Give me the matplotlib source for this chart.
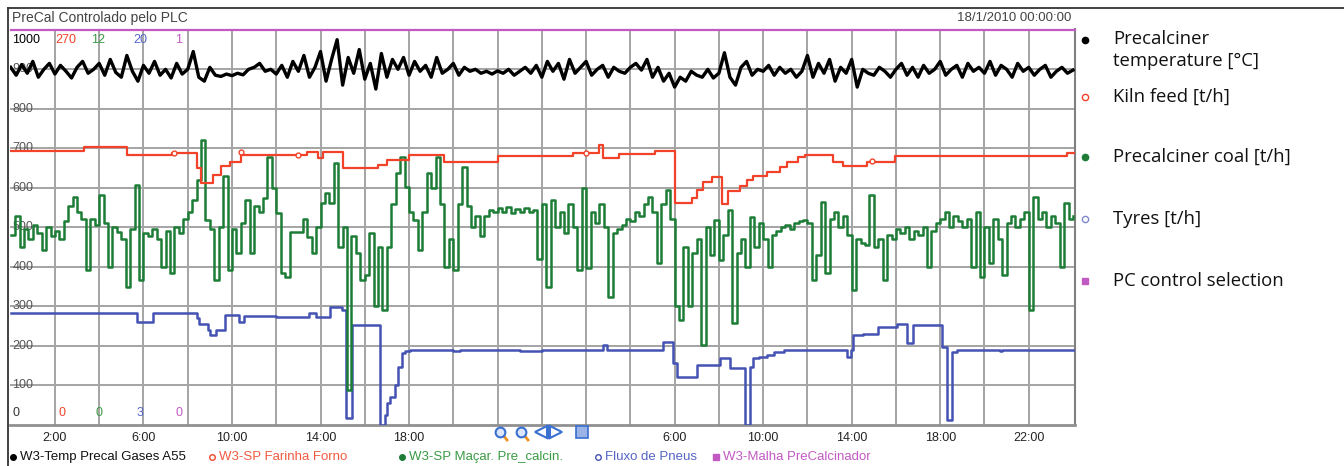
import numpy as np
import matplotlib
matplotlib.use('Agg')
from matplotlib import pyplot as plt
from matplotlib.transforms import blended_transform_factory

# trend values, all on the shared 0-1000 trend scale
# temperature: one reading every 15 min
temp_vals = [905, 885, 912, 890, 920, 880, 900, 915,
             888, 910, 895, 878, 905, 920, 890, 900,
             915, 885, 925, 892, 880, 935, 895, 870,
             910, 890, 920, 885, 900, 878, 915, 888,
             900, 945, 880, 870, 905, 885, 882, 888,
             884, 890, 886, 900, 905, 915, 895, 900,
             888, 910, 880, 920, 895, 935, 880, 905,
             945, 870, 925, 975, 860, 930, 890, 950,
             875, 915, 850, 940, 880, 925, 900, 930,
             885, 920, 895, 910, 880, 930, 890, 900,
             915, 885, 905, 895, 900, 890, 895, 888,
             896, 890, 900, 885, 895, 905, 890, 910,
             880, 920, 895, 915, 875, 925, 890, 905,
             920, 885, 900, 910, 880, 905, 895, 890,
             905, 915, 898, 925, 880, 905, 870, 890,
             855, 880, 870, 895, 885, 880, 900, 878,
             890, 942, 880, 860, 905, 920, 885, 900,
             895, 910, 885, 905, 890, 900, 880, 895,
             935, 880, 915, 890, 925, 870, 905, 890,
             925, 855, 900, 890, 885, 905, 895, 880,
             900, 915, 885, 905, 880, 910, 890, 900,
             920, 885, 900, 910, 880, 915, 895, 905,
             890, 920, 885, 910, 900, 880, 915, 895,
             905, 885, 900, 910, 880, 895, 905, 890, 898]

# precalciner coal: one reading every 12 min
coal_vals = [480, 530, 450, 495, 470, 505, 485, 443, 500, 478,
             490, 470, 515, 553, 578, 540, 520, 392, 520, 505,
             582, 510, 401, 500, 488, 470, 350, 495, 608, 367,
             485, 478, 495, 470, 401, 490, 384, 500, 485, 520,
             540, 570, 620, 722, 519, 495, 367, 500, 629, 392,
             495, 435, 510, 570, 435, 555, 540, 575, 679, 600,
             536, 384, 375, 489, 489, 489, 520, 475, 435, 500,
             561, 586, 561, 662, 451, 500, 88, 477, 435, 367,
             380, 485, 300, 451, 291, 450, 560, 637, 679, 603,
             540, 519, 443, 540, 637, 600, 679, 560, 401, 470,
             392, 560, 654, 553, 502, 530, 477, 530, 544, 540,
             548, 540, 552, 536, 546, 540, 550, 538, 545, 420,
             560, 350, 570, 500, 540, 485, 560, 500, 392, 599,
             397, 540, 510, 560, 500, 325, 485, 495, 505, 520,
             515, 540, 530, 560, 578, 540, 409, 560, 595, 520,
             300, 266, 451, 300, 435, 470, 202, 500, 430, 519,
             418, 480, 544, 257, 435, 470, 400, 527, 450, 510,
             470, 400, 480, 490, 500, 505, 495, 510, 515, 519,
             510, 367, 430, 565, 384, 520, 540, 500, 530, 480,
             342, 470, 460, 455, 582, 451, 470, 367, 480, 470,
             495, 485, 500, 470, 490, 480, 500, 401, 490, 510,
             520, 540, 500, 530, 515, 500, 520, 400, 540, 375,
             500, 410, 520, 470, 380, 510, 530, 500, 520, 540,
             291, 578, 520, 540, 500, 530, 510, 401, 561, 520, 530]

# kiln feed setpoint (steps)
feed_t = [0, 3.3, 5.25, 7.3, 8.4, 8.6, 9.15, 9.5, 9.9, 10.4, 13.4, 13.9, 14.1,
          15.0, 16.6, 17.0, 18.0, 19.6, 22.0, 25.4, 26.6, 26.75, 27.5, 29.1,
          30.0, 30.77, 31.0, 31.3, 31.68, 32.13, 32.43, 32.96, 33.26, 33.56,
          34.16, 34.76, 35.07, 35.59, 35.9, 37.17, 37.62, 38.68, 39.96, 47.72, 48.1]
feed_v = [694, 704, 684, 689, 650, 613, 633, 656, 666, 684, 691, 676, 691,
          651, 658, 671, 684, 666, 681, 689, 709, 676, 686, 694,
          562, 575, 595, 615, 628, 560, 593, 605, 620, 630,
          641, 653, 666, 678, 684, 666, 656, 666, 681, 689, 689]
feed_mark_t = [7.4, 10.4, 13.0, 26.0, 38.9]
feed_mark_v = [689, 692, 684, 689, 668]

# tyres flow (steps)
tyre_t = [0, 5.7, 6.45, 8.4, 8.5, 8.9, 9.0, 9.3, 9.7, 10.3, 10.55, 12.0, 13.5,
          13.8, 14.43, 14.96, 15.15, 15.41, 16.69, 16.92, 17.0, 17.14, 17.37,
          17.52, 17.67, 17.82, 18.05, 20.0, 20.3, 23.0, 24.0, 26.78, 26.95,
          29.49, 29.94, 30.1, 30.4, 31.0, 32.05, 32.5, 33.18, 33.41, 33.56,
          33.79, 34.16, 34.5, 34.92, 37.8, 37.95, 38.08, 38.53, 39.21, 40.04,
          40.49, 40.75, 42.07, 42.3, 42.52, 42.75, 44.7, 44.8, 48.1]
tyre_v = [283, 261, 283, 270, 255, 240, 228, 240, 278, 261, 276, 273, 283,
          273, 299, 291, 18, 253, 0, 25, 56, 71, 101,
          147, 182, 188, 190, 186, 190, 188, 190, 203, 190,
          210, 157, 122, 122, 152, 170, 144, 0, 147, 170,
          172, 178, 184, 190, 172, 190, 228, 230, 248, 256,
          208, 253, 198, 13, 185, 190, 186, 190, 190]

# PC control selection (always 1 -> top of its 0-1 scale)
pc_t = [0, 48.1]
pc_v = [1000, 1000]

x_ticks = [2, 6, 10, 14, 18, 30, 34, 38, 42, 46]
x_labels = ['2:00', '6:00', '10:00', '14:00', '18:00',
            '6:00', '10:00', '14:00', '18:00', '22:00']
y_labels = [100, 200, 300, 400, 500, 600, 700, 800, 900]

C_TEMP = '#000000'
C_FEED = '#f2432a'
C_COAL = '#1d7d36'
C_TYRE = '#4453b3'
C_PC = '#c25ac4'

W, H = 1344, 466
fig = plt.figure(figsize=(W / 100, H / 100), dpi=100)
fig.patch.set_facecolor('white')

def fx(x):
    return x / W

def fy(y):
    return 1 - y / H

ax = fig.add_axes([fx(10), fy(425), fx(1075) - fx(10), fy(29) - fy(425)])
ax.set_xlim(-0.03, 48.09)
ax.set_ylim(0, 1002)
ax.set_xticks(np.arange(2, 48, 2))
ax.set_yticks(y_labels)
ax.tick_params(length=0, labelbottom=False, labelleft=False)
ax.grid(True, color='#a4a4a4', lw=1.4)
ax.set_axisbelow(True)
for s in ['top', 'left']:
    ax.spines[s].set_visible(False)
ax.spines['bottom'].set_color('#909090')
ax.spines['bottom'].set_linewidth(2)
ax.spines['right'].set_color('#808080')
ax.spines['right'].set_linewidth(1.5)

lab = dict(family='Liberation Sans', fontsize=9)
for v in y_labels:
    ax.text(0.08, v, str(v), color='#555555', va='center', ha='left', zorder=1, **lab)

# scale labels top / bottom
top_lab = [('1000', 0.08, C_TEMP), ('270', 2.0, C_FEED), ('12', 3.62, '#3a9a44'),
           ('20', 5.55, '#5565c5'), ('1', 7.45, C_PC)]
bot_lab = [('0', 0.08, '#333333'), ('0', 2.15, C_FEED), ('0', 3.85, '#3a9a44'),
           ('3', 5.7, '#5565c5'), ('0', 7.45, C_PC)]
for s, x, c in top_lab:
    ax.text(x, 975, s, color=c, va='center', ha='left', zorder=1, **lab)
for s, x, c in bot_lab:
    ax.text(x, 30, s, color=c, va='center', ha='left', zorder=1, **lab)

t_temp = np.arange(len(temp_vals)) * 0.25
t_coal = np.arange(len(coal_vals)) * 0.2
ax.plot(tyre_t, tyre_v, color=C_TYRE, lw=1.8, drawstyle='steps-post', zorder=3)
ax.plot(t_coal, coal_vals, color=C_COAL, lw=1.8, drawstyle='steps-post', zorder=4)
ax.plot(feed_t, feed_v, color=C_FEED, lw=1.6, drawstyle='steps-post', zorder=5)
ax.plot(feed_mark_t, feed_mark_v, 'o', mfc='white', mec=C_FEED, ms=3.5, mew=1, zorder=5)
ax.plot(t_temp, temp_vals, color=C_TEMP, lw=2.4, zorder=6)
ax.plot(pc_t, pc_v, color=C_PC, lw=1.6, zorder=7, clip_on=False)

tr = blended_transform_factory(ax.transData, ax.transAxes)
for x, s in zip(x_ticks, x_labels):
    ax.text(x, -0.032, s, transform=tr, ha='center', va='center', color='#222222', **lab)

# outer frame of the trend window
fig.add_artist(plt.Line2D([fx(8), fx(8)], [fy(8), 0], color='#333333', lw=1.3))
fig.add_artist(plt.Line2D([fx(8), 1], [fy(8), fy(8)], color='#333333', lw=1.3))

fig.text(fx(12), fy(18), 'PreCal Controlado pelo PLC', color='#444444', va='center',
         family='Liberation Sans', fontsize=10)
fig.text(fx(1071), fy(18), '18/1/2010 00:00:00', color='#444444', va='center', ha='right',
         family='Liberation Sans', fontsize=9.5)

# toolbar icons in the time axis gap
for x in [500, 521]:
    fig.add_artist(plt.Line2D([fx(x + 3), fx(x + 7)], [fy(435), fy(440)], color='#f09020', lw=2))
    fig.add_artist(plt.Line2D([fx(x)], [fy(432)], marker='o', ms=7, mfc='#dde6ff',
                              mec='#3a70d0', mew=1.5))
fig.add_artist(plt.Line2D([fx(541)], [fy(432)], marker='<', ms=9, mfc='white', mec='#3a70d0', mew=1.5))
fig.add_artist(plt.Line2D([fx(556)], [fy(432)], marker='>', ms=9, mfc='white', mec='#3a70d0', mew=1.5))
fig.add_artist(plt.Line2D([fx(548.5), fx(548.5)], [fy(426), fy(438)], color='#3a70d0', lw=1.5))
fig.add_artist(plt.Line2D([fx(582)], [fy(432)], marker='s', ms=8, mfc='#9ab4e8', mec='#3a70d0', mew=1.2))

# bottom legend row
leg_row = [(13, 'o', True, C_TEMP, 'W3-Temp Precal Gases A55', '#111111'),
           (212, 'o', False, C_FEED, 'W3-SP Farinha Forno', '#f05a40'),
           (402, 'o', True, C_COAL, 'W3-SP Maçar. Pre_calcin.', '#3a9a44'),
           (598, 'o', False, C_TYRE, 'Fluxo de Pneus', '#5565c5'),
           (716, 's', True, C_PC, 'W3-Malha PreCalcinador', '#c25ac4')]
for x, m, filled, c, s, tc in leg_row:
    fig.add_artist(plt.Line2D([fx(x)], [fy(457)], marker=m, ms=4,
                              mfc=c if filled else 'white', mec=c, mew=1))
    fig.text(fx(x + 7), fy(457), s, color=tc, va='center', family='Liberation Sans', fontsize=9.5)

# right-hand legend
side = [(40, 'o', True, C_TEMP, 'Precalciner\ntemperature [°C]', 50),
        (97, 'o', False, C_FEED, 'Kiln feed [t/h]', 97),
        (157, 'o', True, C_COAL, 'Precalciner coal [t/h]', 157),
        (219, 'o', False, '#8088cc', 'Tyres [t/h]', 219),
        (281, 's', True, C_PC, 'PC control selection', 281)]
for y, m, filled, c, s, ty in side:
    fig.add_artist(plt.Line2D([fx(1085)], [fy(y)], marker=m, ms=4.5,
                              mfc=c if filled else 'white', mec=c, mew=1))
    fig.text(fx(1113), fy(ty), s, color='#111111', va='center', family='Open Sans',
             fontsize=13.3, linespacing=1.25)

fig.savefig('out.png', dpi=100)
